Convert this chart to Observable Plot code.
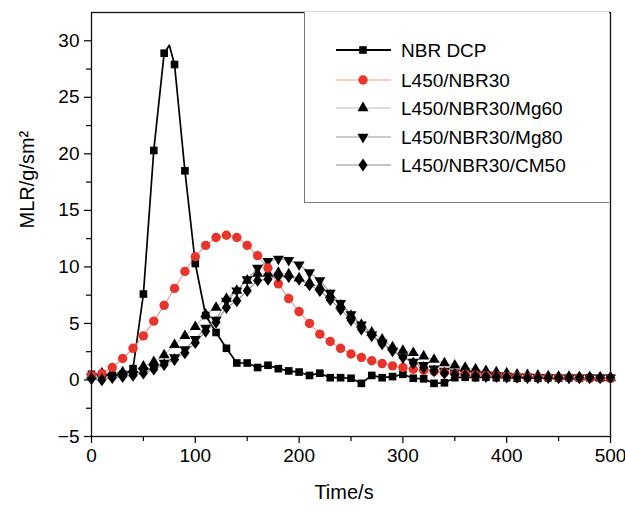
<!DOCTYPE html>
<html><head><meta charset="utf-8">
<script src="https://cdn.jsdelivr.net/npm/d3@7"></script>
<script src="https://cdn.jsdelivr.net/npm/@observablehq/plot@0.6"></script>
<style>
body{margin:0;background:#fff;font-family:"Liberation Sans",Arial,Helvetica,sans-serif}
#wrap{position:relative;width:625px;height:509px}
#legend{position:absolute;left:304px;top:12px;width:305px;height:191px;border:1px solid #777;border-top:none;border-right:none;background:#fff;box-sizing:border-box}
</style>
</head><body><div id="wrap"></div>
<script>
// ---- data ----
const times = [0,10,20,30,40,50,60,70,80,90,100,110,120,130,140,150,160,170,180,190,200,210,220,230,240,250,260,270,280,290,300,310,320,330,340,350,360,370,380,390,400,410,420,430,440,450,460,470,480,490,500];
const nbrTimes = [0,10,20,30,40,50,60,70,75,80,90,100,110,120,130,140,150,160,170,180,190,200,210,220,230,240,250,260,270,280,290,300,310,320,330,340,350,360,370,380,390,400,410,420,430,440,450,460,470,480,490,500];
const nbrDcp = [0.5,0.5,0.4,0.5,1.0,7.6,20.3,28.9,29.6,27.9,18.5,10.3,5.7,4.2,2.8,1.5,1.5,1.1,1.3,1.0,0.8,0.7,0.4,0.6,0.2,0.2,0.15,-0.3,0.4,0.2,0.3,0.5,0.15,0.1,-0.3,-0.25,0.2,0.25,0.2,0.25,0.2,0.2,0.15,0.2,0.15,0.2,0.15,0.2,0.15,0.2,0.15,0.15];
const l450Nbr30 = [0.4,0.56,1.1,1.9,2.8,3.9,5.2,6.6,8.1,9.6,10.9,11.9,12.6,12.8,12.6,11.9,11.0,9.9,8.5,7.2,6.05,5.0,4.05,3.4,2.8,2.3,2.0,1.7,1.45,1.25,1.1,0.95,0.85,0.75,0.65,0.55,0.5,0.45,0.4,0.35,0.32,0.3,0.27,0.25,0.23,0.21,0.2,0.18,0.16,0.15,0.14];
const mg60 = [0.4,0.6,0.6,0.7,0.9,1.2,1.6,2.2,3.1,3.9,4.7,5.8,6.4,7.2,7.9,8.8,9.4,9.4,9.5,9.35,9.0,8.6,8.2,7.5,6.6,5.7,4.9,4.2,3.6,2.9,2.6,2.4,2.1,1.8,1.5,1.3,1.1,0.95,0.8,0.7,0.6,0.5,0.45,0.4,0.35,0.3,0.3,0.25,0.25,0.2,0.2];
const mg80 = [0.3,0.2,0.3,0.4,0.5,0.8,1.1,1.5,2.0,2.7,3.6,4.6,5.3,7.0,7.9,8.9,9.9,10.5,10.7,10.6,10.2,9.5,8.8,7.7,6.8,5.8,4.9,4.0,3.3,2.6,2.0,1.6,1.3,1.0,0.8,0.65,0.55,0.5,0.45,0.4,0.35,0.3,0.3,0.25,0.25,0.2,0.2,0.2,0.2,0.2,0.2];
const cm50 = [0.1,0.0,0.2,0.3,0.4,0.6,0.95,1.35,1.8,2.4,3.3,4.3,5.1,6.4,7.0,7.9,8.8,8.9,9.2,9.15,8.9,8.4,7.9,7.1,6.25,5.3,4.5,3.9,3.2,2.6,2.0,1.5,1.1,0.8,0.6,0.5,0.4,0.35,0.3,0.3,0.25,0.25,0.2,0.2,0.2,0.2,0.2,0.2,0.2,0.2,0.2];
const seriesNames = ["NBR DCP","L450/NBR30","L450/NBR30/Mg60","L450/NBR30/Mg80","L450/NBR30/CM50"];
const xTicks = [0,100,200,300,400,500];
const xMinor = [50,150,250,350,450];
const yTicks = [-5,0,5,10,15,20,25,30];
const yMinor = [-2.5,2.5,7.5,12.5,17.5,22.5,27.5];

// ---- styles ----
const diamondSym = {draw(ctx, size){const w=Math.sqrt(size/2.8), h=1.4*w; ctx.moveTo(0,-h); ctx.lineTo(w,0); ctx.lineTo(0,h); ctx.lineTo(-w,0); ctx.closePath();}};
const styles = [
  {line:"#000", lw:1.7, symbol:d3.symbolSquare, fill:"#000", r:4.3, rotate:0},
  {line:"#f39a94", lw:1.1, symbol:d3.symbolCircle, fill:"#e8352b", r:4.7, rotate:0},
  {line:"#bdbdbd", lw:1.1, symbol:d3.symbolTriangle, fill:"#000", r:4.1, rotate:0},
  {line:"#9a9a9a", lw:1.1, symbol:d3.symbolTriangle, fill:"#000", r:4.1, rotate:180},
  {line:"#8a8a8a", lw:1.1, symbol:diamondSym, fill:"#000", r:4.3, rotate:0}
];
const seriesData = [
  nbrTimes.map((t,i)=>({t, v:nbrDcp[i]})),
  times.map((t,i)=>({t, v:l450Nbr30[i]})),
  times.map((t,i)=>({t, v:mg60[i]})),
  times.map((t,i)=>({t, v:mg80[i]})),
  times.map((t,i)=>({t, v:cm50[i]}))
];

const lineMarks = seriesData.map((d,k)=>Plot.line(d,{x:"t", y:"v", stroke:styles[k].line, strokeWidth:styles[k].lw}));
const dotOrder = [0,2,3,1,4];
const dotMarks = dotOrder.map(k=>Plot.dot(seriesData[k].filter(d=>d.t%10===0),{x:"t", y:"v", symbol:styles[k].symbol, fill:styles[k].fill, r:styles[k].r, rotate:styles[k].rotate, stroke:"none"}));

const chart = Plot.plot({
  width:625, height:509,
  marginLeft:91, marginRight:15, marginTop:12, marginBottom:73,
  style:{fontFamily:'"Liberation Sans",Arial,Helvetica,sans-serif', color:"#000", background:"#fff", overflow:"visible"},
  x:{domain:[0,500]},
  y:{domain:[-5,32.5]},
  marks:[
    ...lineMarks,
    ...dotMarks,
    Plot.frame({stroke:"#111", strokeWidth:1.3}),
    Plot.axisX({ticks:xTicks, tickSize:7, tickPadding:5, fontSize:19, label:null, strokeWidth:1.2}),
    Plot.axisX({ticks:xMinor, tickSize:5, tickFormat:()=>"", label:null, strokeWidth:1.2}),
    Plot.axisY({ticks:yTicks, tickSize:7, tickPadding:5, fontSize:19, label:null, strokeWidth:1.2}),
    Plot.axisY({ticks:yMinor, tickSize:5, tickFormat:()=>"", label:null, strokeWidth:1.2}),
    Plot.text(["Time/s"],{frameAnchor:"bottom", dy:62, dx:-7, fontSize:20, text:d=>d, fill:"#000"}),
    Plot.text(["MLR/g/sm²"],{frameAnchor:"left", dx:-64, dy:4, rotate:-90, fontSize:20, text:d=>d, fill:"#000"})
  ]
});
const wrap = document.getElementById("wrap");
wrap.appendChild(chart);

// ---- legend ----
const leg = document.createElement("div");
leg.id = "legend";
wrap.appendChild(leg);
const ls = d3.select(leg).append("svg").attr("width",305).attr("height",191).style("display","block");
const rowsY = [38,68,96,125,153];
seriesNames.forEach((name,k)=>{
  const s = styles[k], y = rowsY[k];
  ls.append("line").attr("x1",31).attr("x2",86).attr("y1",y).attr("y2",y).attr("stroke",s.line).attr("stroke-width",k===0?2:1.2);
  ls.append("path").attr("d",d3.symbol(s.symbol, s.r*s.r*Math.PI)()).attr("fill",s.fill).attr("transform",`translate(58,${y}) rotate(${s.rotate})`);
  ls.append("text").attr("x",96).attr("y",y).attr("dy","0.36em").attr("font-size",19).attr("fill","#000").text(name);
});
</script>
</body></html>
